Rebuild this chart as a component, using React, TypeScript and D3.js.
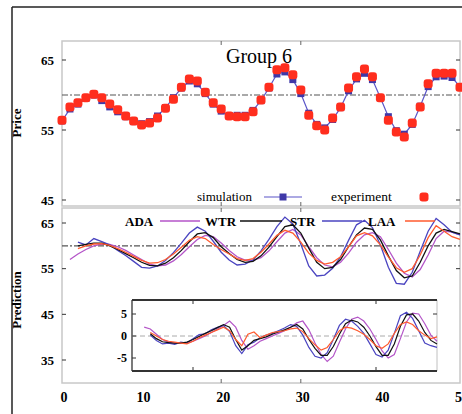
import React from 'react';
import * as d3 from 'd3';

const W = 462;
const H = 414;

// top panel: price, t = 0..50
const steps = d3.range(0, 51);
const experiment = [
  56.4, 58.3, 58.9, 59.6, 60.1, 59.6, 58.7, 57.9, 57.0, 56.3,
  55.7, 56.0, 56.7, 58.1, 59.4, 61.1, 62.3, 62.0, 60.4, 58.9,
  58.0, 57.0, 56.9, 56.9, 57.6, 59.3, 61.1, 63.6, 63.9, 62.9,
  60.7, 57.1, 55.6, 55.0, 56.7, 58.3, 61.0, 62.6, 63.7, 62.6,
  59.6, 56.4, 54.7, 54.0, 56.0, 58.3, 61.6, 63.1, 63.1, 63.1, 61.1,
];
const simulation = [
  56.3, 58.0, 58.7, 59.5, 60.0, 59.2, 58.3, 57.6, 56.9, 56.2,
  55.9, 56.2, 57.0, 58.2, 59.6, 61.0, 62.0, 61.6, 60.2, 58.7,
  57.7, 57.0, 57.1, 57.1, 57.8, 59.2, 61.0, 63.0, 63.3, 62.2,
  60.2, 57.4, 55.8, 55.3, 56.5, 58.2, 60.6, 62.3, 63.1, 62.2,
  59.6, 56.9, 54.9, 54.4, 55.8, 58.4, 61.2, 62.6, 62.7, 62.5, 61.2,
];

// bottom panel: predictions, t = 1..50
const predSteps = d3.range(1, 51);
const ada = [
  57.0, 58.2, 59.2, 60.0, 60.4, 60.3, 59.8, 59.0, 58.0, 57.0,
  56.0, 55.6, 55.8, 56.7, 58.1, 59.8, 61.4, 62.3, 62.0, 60.6,
  59.0, 57.6, 56.9, 56.8, 57.4, 58.9, 60.9, 62.8, 63.6, 62.4,
  59.8, 57.4, 55.8, 55.4, 56.4, 58.4, 60.8, 62.4, 62.9, 62.0,
  59.2, 56.2, 54.0, 53.2, 54.8, 58.0, 61.6, 63.2, 63.0, 62.4,
];
const wtr = [
  null, 60.0, 60.3, 60.6, 60.6, 60.0, 59.2, 58.3, 57.4, 56.4,
  55.7, 55.6, 56.2, 57.4, 59.0, 60.9, 62.6, 62.9, 61.8, 59.8,
  58.3, 57.0, 56.4, 56.6, 57.8, 59.7, 62.0, 64.2, 64.6, 62.8,
  59.5, 56.4, 55.0, 55.3, 57.0, 59.8, 62.4, 63.9, 63.6, 61.3,
  57.8, 54.6, 53.0, 53.4, 56.4, 60.0, 62.8, 63.6, 63.1, 62.6,
];
const str = [
  null, 60.8, 60.2, 61.6, 60.9, 60.2, 59.0, 57.9, 56.6, 55.3,
  55.1, 55.6, 56.8, 58.5, 60.6, 62.8, 64.1, 63.2, 61.0, 58.6,
  56.9, 55.8, 56.0, 56.9, 58.9, 61.4, 64.2, 66.3, 64.8, 60.4,
  55.6, 53.4, 53.6, 55.1, 57.6, 61.2, 64.6, 65.6, 64.0, 60.2,
  55.3, 51.8, 51.6, 54.2, 58.8, 63.2, 66.0, 64.6, 63.0, 62.4,
];
const laa = [
  null, 59.4, 60.0, 60.4, 60.5, 60.1, 59.4, 58.6, 57.7, 56.8,
  56.2, 56.3, 57.0, 58.2, 59.7, 61.2, 62.0, 61.6, 60.3, 59.2,
  58.2, 57.2, 56.8, 57.2, 58.6, 60.4, 62.3, 63.4, 62.8, 60.8,
  58.4, 56.8, 56.0, 56.4, 57.6, 59.8, 62.2, 62.9, 62.2, 60.2,
  57.6, 55.2, 54.2, 55.0, 58.0, 61.8, 64.4, 63.2, 62.0, 61.4,
];

// inset, t = 2..50
const insetSteps = d3.range(2, 51);
const adaInset = [
  2.0, 1.6, 0.4, -0.8, -1.4, -1.6, -1.6, -1.6, -1.2,
  -0.6, 0.0, 0.8, 1.6, 2.4, 3.4, 2.0, -1.0, -3.0, -2.2,
  -1.2, -0.6, 0.0, 0.6, 1.2, 2.0, 3.0, 3.4, 1.4, -1.6,
  -4.2, -5.8, -4.6, -1.4, 1.6, 3.8, 4.3, 3.4, 1.6, -0.8,
  -3.4, -5.0, -4.2, -0.6, 3.2, 5.2, 5.0, 2.8, 0.2, -1.2,
];
const wtrInset = [
  null, 0.5, -0.6, -1.3, -1.5, -1.6, -1.6, -1.4, -0.8,
  -0.1, 0.6, 1.2, 1.9, 2.6, 2.0, -0.8, -3.2, -2.2, -1.0,
  -0.6, -0.2, 0.4, 0.9, 1.4, 2.0, 2.6, 1.6, -0.8, -2.8,
  -4.4, -4.4, -2.4, 0.4, 2.8, 3.6, 3.2, 2.0, 0.0, -2.4,
  -4.4, -4.4, -1.8, 2.2, 4.8, 5.0, 3.4, 0.8, -1.0, -1.8,
];
const strInset = [
  null, 0.2, -1.0, -1.8, -1.6, -1.9, -1.4, -1.6, -0.6,
  0.3, 0.5, 1.4, 2.0, 2.4, 1.0, -2.2, -4.0, -2.0, -1.4,
  -0.4, 0.2, 0.6, 1.2, 1.8, 2.6, 2.2, 0.2, -2.6, -4.6,
  -5.0, -3.8, -0.8, 2.4, 3.8, 3.4, 2.2, 0.6, -1.8, -4.2,
  -4.8, -3.2, 0.6, 4.6, 5.4, 4.0, 1.2, -1.6, -2.2, -2.6,
];
const laaInset = [
  null, 0.8, 0.0, -0.8, -1.2, -1.4, -1.6, -1.8, -1.2,
  -0.4, 0.2, 0.8, 1.4, 2.0, 1.2, -0.8, -2.2, 0.4, 0.9,
  -0.4, 0.2, 0.8, 1.0, 1.2, 1.6, 1.8, 1.0, -0.6, -2.0,
  -3.2, -2.6, -0.8, 1.2, 2.0, 1.8, 1.2, 0.4, -0.8, -2.2,
  -2.8, -1.8, 0.6, 2.6, 3.2, 2.6, 1.2, 0.2, -0.6, -0.2,
];

const xTicks = [0, 10, 20, 30, 40, 50];
const priceTicks = [45, 55, 65];
const predTicks = [35, 45, 55, 65];
const insetTicks = [-5, 0, 5];

const series = [
  { name: 'ADA', main: ada, inset: adaInset, color: '#b455c8' },
  { name: 'STR', main: str, inset: strInset, color: '#4a44c0' },
  { name: 'WTR', main: wtr, inset: wtrInset, color: '#111111' },
  { name: 'LAA', main: laa, inset: laaInset, color: '#ff5a2e' },
];
const legendOrder = ['ADA', 'WTR', 'STR', 'LAA'];

const serif = '"Liberation Serif", "DejaVu Serif", serif';

export default function App() {
  const x = d3.scaleLinear().domain([0, 50]).range([62, 460]);
  const yTop = d3.scaleLinear().domain([45, 65]).range([200, 60]);
  const yBot = d3.scaleLinear().domain([35, 65]).range([360, 223]);
  const xIn = d3.scaleLinear().domain([0, 50]).range([132, 437]);
  const yIn = d3.scaleLinear().domain([-5, 5]).range([358, 314]);

  const simLine = d3.line<number>().x((_, i) => x(steps[i])).y(d => yTop(d));
  const mainLine = d3.line<number | null>()
    .defined(d => d != null)
    .x((_, i) => x(predSteps[i]))
    .y(d => yBot(d as number));
  const insetLine = d3.line<number | null>()
    .defined(d => d != null)
    .x((_, i) => xIn(insetSteps[i]))
    .y(d => yIn(d as number));

  // legend slots along the top of the prediction panel
  const legendPos: Record<string, { tx: number; x1: number; x2: number }> = {
    ADA: { tx: 125, x1: 160, x2: 200 },
    WTR: { tx: 205, x1: 240, x2: 282 },
    STR: { tx: 290, x1: 322, x2: 362 },
    LAA: { tx: 368, x1: 405, x2: 435 },
  };

  return (
    <svg width={W} height={H} style={{ position: 'absolute', left: 0, top: 0, background: '#fff' }}
      fontFamily={serif}>
      <rect width={W} height={H} fill="#fff" />
      {/* outer frame */}
      <line x1={12} y1={7} x2={W} y2={7} stroke="#222" strokeWidth={1.5} />
      <line x1={12} y1={7} x2={12} y2={H} stroke="#222" strokeWidth={1.5} />

      {/* ---------- top panel ---------- */}
      <rect x={62} y={41} width={398} height={165} fill="none" stroke="#c8c8c8" strokeWidth={1.5} />
      <line x1={62} x2={460} y1={yTop(60)} y2={yTop(60)} stroke="#555" strokeWidth={1.2}
        strokeDasharray="6,2,2,2" />
      {priceTicks.map(t => (
        <g key={t}>
          <line x1={62} x2={66} y1={yTop(t)} y2={yTop(t)} stroke="#333" />
          <line x1={456} x2={460} y1={yTop(t)} y2={yTop(t)} stroke="#333" />
          <text x={54} y={yTop(t)} dy="0.35em" textAnchor="end" fontSize={13} fontWeight="bold">{t}</text>
        </g>
      ))}
      {[20, 30].map(t => (
        <g key={t}>
          <line x1={x(t)} x2={x(t)} y1={41} y2={45} stroke="#666" />
          <line x1={x(t)} x2={x(t)} y1={206} y2={202} stroke="#666" />
        </g>
      ))}
      <path d={simLine(simulation) ?? ''} fill="none" stroke="#5a55c8" strokeWidth={1.2} />
      {simulation.map((d, i) => (
        <rect key={'s' + i} x={x(steps[i]) - 3.5} y={yTop(d) - 3.5} width={7} height={7} fill="#3f38a8" />
      ))}
      {experiment.map((d, i) => (
        <rect key={'e' + i} x={x(steps[i]) - 4.5} y={yTop(d) - 4.5} width={9} height={9} rx={3}
          fill="#ff2e1e" />
      ))}
      <text x={259} y={63} textAnchor="middle" fontSize={20}>Group 6</text>
      <text transform="translate(21,123) rotate(-90)" textAnchor="middle" fontSize={13} fontWeight="bold">Price</text>

      {/* top legend */}
      <text x={197} y={201} fontSize={13}>simulation</text>
      <line x1={264} x2={302} y1={197} y2={197} stroke="#5a55c8" strokeWidth={1.2} />
      <rect x={279.5} y={193.5} width={7} height={7} fill="#3f38a8" />
      <text x={331} y={201} fontSize={13.5}>experiment</text>
      <rect x={419.5} y={192.5} width={9} height={9} rx={3} fill="#ff2e1e" />

      {/* ---------- bottom panel ---------- */}
      <rect x={62} y={208} width={398} height={175} fill="none" stroke="#c8c8c8" strokeWidth={1.5} />
      <line x1={62} x2={460} y1={yBot(60)} y2={yBot(60)} stroke="#555" strokeWidth={1.2}
        strokeDasharray="6,2,2,2" />
      {predTicks.map(t => (
        <g key={t}>
          <line x1={62} x2={66} y1={yBot(t)} y2={yBot(t)} stroke="#333" />
          {t >= 55 && <line x1={456} x2={460} y1={yBot(t)} y2={yBot(t)} stroke="#333" />}
          <text x={54} y={yBot(t)} dy="0.35em" textAnchor="end" fontSize={13} fontWeight="bold">{t}</text>
        </g>
      ))}
      {[20, 30].map(t => (
        <g key={t}>
          <line x1={x(t)} x2={x(t)} y1={208} y2={212} stroke="#666" />
          <line x1={x(t)} x2={x(t)} y1={383} y2={379} stroke="#666" />
        </g>
      ))}
      {series.map(s => (
        <path key={s.name} d={mainLine(s.main) ?? ''} fill="none" stroke={s.color} strokeWidth={1.3} />
      ))}
      <text transform="translate(21,300) rotate(-90)" textAnchor="middle" fontSize={13} fontWeight="bold">Prediction</text>

      {/* bottom legend */}
      {legendOrder.map(n => {
        const s = series.find(v => v.name === n)!;
        const p = legendPos[n];
        return (
          <g key={n}>
            <text x={p.tx} y={226} fontSize={13} fontWeight="bold">{n}</text>
            <line x1={p.x1} x2={p.x2} y1={221} y2={221} stroke={s.color} strokeWidth={1.5} />
          </g>
        );
      })}

      {/* x tick labels (the last one runs off the right edge, as in the original) */}
      {xTicks.map(t => (
        <text key={t} x={x(t) + 2} y={402} textAnchor="middle" fontSize={14} fontWeight="bold">{t}</text>
      ))}

      {/* ---------- inset ---------- */}
      <line x1={437} x2={437} y1={300} y2={371} stroke="#c0c0c0" />
      <line x1={132} x2={132} y1={300} y2={371} stroke="#222" strokeWidth={1.2} />
      <line x1={132} x2={437} y1={yIn(0)} y2={yIn(0)} stroke="#aaa" strokeDasharray="5,3" />
      {insetTicks.map(t => (
        <g key={t}>
          <line x1={132} x2={136} y1={yIn(t)} y2={yIn(t)} stroke="#333" />
          <text x={127} y={yIn(t)} dy="0.35em" textAnchor="end" fontSize={12} fontWeight="bold">{t}</text>
        </g>
      ))}
      <line x1={433} x2={437} y1={yIn(5)} y2={yIn(5)} stroke="#333" />
      {[10, 40].map(t => (
        <g key={t}>
          <line x1={xIn(t)} x2={xIn(t)} y1={300} y2={304} stroke="#333" />
          <line x1={xIn(t)} x2={xIn(t)} y1={371} y2={367} stroke="#333" />
        </g>
      ))}
      {series.map(s => (
        <path key={s.name} d={insetLine(s.inset) ?? ''} fill="none" stroke={s.color} strokeWidth={1.2} />
      ))}
      <line x1={132} x2={437} y1={300} y2={300} stroke="#333" strokeWidth={2} />
      <line x1={132} x2={437} y1={371} y2={371} stroke="#333" strokeWidth={2} />
    </svg>
  );
}
